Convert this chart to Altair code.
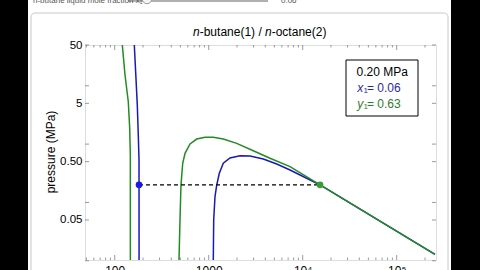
import altair as alt
import pandas as pd

# ---------------- data ----------------
# molar volume (cm^3/mol) and pressure (MPa) along each branch
green_liquid_V = [120.5, 128.7, 139.5, 144.4, 146.6, 146.8]
green_liquid_P = [50, 15.3, 5.33, 1.86, 0.65, 0.0103]

blue_liquid_V = [161.6, 167.7, 173.9, 178.2, 181.4, 181.6]
blue_liquid_P = [50, 15.3, 4.69, 1.43, 0.53, 0.0103]

green_vapor_V = [483, 495, 507, 529, 560, 633, 746, 913, 1119, 1430, 1986, 2980, 4490, 7330, 15300, 255400]
green_vapor_P = [0.0103, 0.05, 0.197, 0.469, 0.695, 1.005, 1.22, 1.31, 1.31, 1.22, 1.03, 0.77, 0.571, 0.41, 0.2, 0.0129]

blue_vapor_V = [1119, 1130, 1167, 1216, 1297, 1430, 1685, 2153, 2750, 3810, 5290, 7330, 14090, 15300, 255400]
blue_vapor_P = [0.0103, 0.05, 0.126, 0.197, 0.316, 0.469, 0.578, 0.632, 0.625, 0.555, 0.456, 0.36, 0.213, 0.2, 0.0129]

pressure_MPa = 0.2
liquid_point_V = 181.4
vapor_point_V = 15300

x_label_values = [100, 1000, 10000, 100000]
x_label_texts = ["100", "1000", "10⁴", "10⁵"]
x_minor_ticks = [50, 60, 70, 80, 90, 200, 300, 400, 500, 600, 700, 800, 900,
                 2000, 3000, 4000, 5000, 6000, 7000, 8000, 9000,
                 20000, 30000, 40000, 50000, 60000, 70000, 80000, 90000, 200000]
y_label_values = [50, 5, 0.5, 0.05]
y_label_texts = ["50", "5", "0.50", "0.05"]
y_ticks = [50, 10, 5, 1, 0.5, 0.1, 0.05, 0.01]

title_parts = ["n", "-butane(1) / ", "n", "-octane(2)"]
box_line1 = "0.20 MPa"
box_x_value = " = 0.06"
box_y_value = " = 0.63"
y_title = "pressure (MPa)"
control_label = "n-butane liquid mole fraction x₁"
control_value = "0.06"

# ---------------- styling ----------------
BLUE = "#1a1ab4"
GREEN = "#238b23"
FONT = "Liberation Sans"
W, H = 351, 215

x_scale = alt.Scale(type="log", domain=[48.3, 261900], nice=False)
y_scale = alt.Scale(type="log", domain=[0.0103, 50], nice=False)


def label_expr(vals, texts):
    expr = "''"
    for v, t in zip(vals, texts):
        expr = f"(abs(datum.value - {v}) < {v}*1e-6 ? '{t}' : {expr})"
    return expr


x_axis = alt.Axis(values=x_label_values, labelExpr=label_expr(x_label_values, x_label_texts),
                  ticks=False, domain=False, grid=False, labelFontSize=12, labelPadding=5,
                  labelFont=FONT, labelColor="black", title=None, labelFlush=False,
                  labelOverlap=False)
y_axis = alt.Axis(values=y_label_values, labelExpr=label_expr(y_label_values, y_label_texts),
                  ticks=False, domain=False, grid=False, labelFontSize=11.5, labelPadding=3,
                  labelFont=FONT, labelColor="black", title=None, labelFlush=False,
                  labelOverlap=False)


def X(field):
    return alt.X(f"{field}:Q", scale=x_scale, axis=x_axis)


def Y(field):
    return alt.Y(f"{field}:Q", scale=y_scale, axis=y_axis)


def series(V, P):
    return pd.DataFrame({"V": V, "P": P, "i": list(range(len(V)))})


def line(V, P, color):
    return alt.Chart(series(V, P)).mark_line(color=color, strokeWidth=1.5, clip=True).encode(
        x=X("V"), y=Y("P"), order="i:Q")


one = pd.DataFrame({"a": [0]})


def deco_rect(x, x2, y, y2, **kw):
    return alt.Chart(one).mark_rect(**kw).encode(
        x=alt.value(x), x2=alt.value(x2), y=alt.value(y), y2=alt.value(y2))


def text(t, x, y, size=12, color="black", italic=False, align="left", angle=0, baseline="middle"):
    kw = dict(text=t, fontSize=size, color=color, align=align, baseline=baseline, font=FONT)
    if italic:
        kw["fontStyle"] = "italic"
    if angle:
        kw["angle"] = angle
    return alt.Chart(one).mark_text(**kw).encode(x=alt.value(x), y=alt.value(y))


# page decorations (origin of these values is the plot's top-left corner at 85,45)
left_black = deco_rect(-85, -57, -45, 225, color="black")
right_black = deco_rect(366, 395, -45, 225, color="black")
panel = deco_rect(-54, 363, -32, 240, fill="transparent", stroke="#c8c8c8", strokeWidth=1, cornerRadius=4)
track = alt.Chart(one).mark_rule(color="#b0b0b0", strokeWidth=2).encode(
    x=alt.value(43), x2=alt.value(183), y=alt.value(-44))
knob = alt.Chart(one).mark_circle(size=90, color="#f4f4f4", stroke="#999", strokeWidth=1, opacity=1).encode(
    x=alt.value(62), y=alt.value(-46))
ctrl_text = text(control_label, -52, -44, size=8, color="#555")
ctrl_val = text(control_value, 196, -44, size=8, color="#555")

# ticks (inward, on all four sides)
xt_major = pd.DataFrame({"V": x_label_values})
xt_minor = pd.DataFrame({"V": x_minor_ticks})
yt = pd.DataFrame({"P": y_ticks})
TICK = "#808080"


def xticks(df, y, y2):
    return alt.Chart(df).mark_rule(color=TICK, strokeWidth=0.8).encode(
        x=X("V"), y=alt.value(y), y2=alt.value(y2))


def yticks(x, x2):
    return alt.Chart(yt).mark_rule(color=TICK, strokeWidth=0.8).encode(
        y=Y("P"), x=alt.value(x), x2=alt.value(x2))


ticks = [xticks(xt_major, H, H - 5), xticks(xt_minor, H, H - 2.5),
         xticks(xt_major, 0, 5), xticks(xt_minor, 0, 2.5),
         yticks(0, 4), yticks(W, W - 4)]

# curves
curves = [
    line(green_liquid_V, green_liquid_P, GREEN),
    line(blue_liquid_V, blue_liquid_P, BLUE),
    line(blue_vapor_V, blue_vapor_P, BLUE),
    line(green_vapor_V, green_vapor_P, GREEN),
]

tie = alt.Chart(pd.DataFrame({"V": [liquid_point_V], "V2": [vapor_point_V], "P": [pressure_MPa]})).mark_rule(
    color="black", strokeDash=[4, 3], strokeWidth=1.2).encode(
    x=X("V"), x2="V2:Q", y=Y("P"))

pts_df = pd.DataFrame({"V": [liquid_point_V, vapor_point_V], "P": [pressure_MPa, pressure_MPa],
                       "c": ["liq", "vap"]})
points = alt.Chart(pts_df).mark_circle(size=45, opacity=1).encode(
    x=X("V"), y=Y("P"),
    color=alt.Color("c:N", scale=alt.Scale(domain=["liq", "vap"], range=["#1a1ae6", "#3a9a3a"]), legend=None),
)

# legend box
box = deco_rect(261, 333, 15, 71, fill="white", stroke="black", strokeWidth=1)
box_texts = [
    text(box_line1, 297.3, 27, size=12, align="center"),
    text("x", 272.3, 42.5, size=12, color="#2a2a9e", italic=True),
    text("1", 278.6, 46, size=8, color="#2a2a9e"),
    text(box_x_value, 282, 42.5, size=12, color="#2a2a9e"),
    text("y", 272.3, 58.5, size=12, color="#2e7d2e", italic=True),
    text("1", 278.6, 62, size=8, color="#2e7d2e"),
    text(box_y_value, 282, 58.5, size=12, color="#2e7d2e"),
]

# title and y title
title_layers = [
    text(title_parts[0], 108, -13.5, size=12, italic=True),
    text(title_parts[1], 114.7, -13.5, size=12),
    text(title_parts[2], 180.0, -13.5, size=12, italic=True),
    text(title_parts[3], 186.7, -13.5, size=12),
]
ytitle = text(y_title, -34, 107, size=12, align="center", angle=270)

chart = alt.layer(
    left_black, right_black, panel, track, knob, ctrl_text, ctrl_val,
    *curves, *ticks, tie, points, box, *box_texts, *title_layers, ytitle,
).properties(
    width=W, height=H,
    padding={"left": 85, "top": 45, "right": 44, "bottom": 10},
    autosize=alt.AutoSizeParams(type="none"),
    background="white",
).configure_view(stroke="#999999", strokeWidth=1).configure(font=FONT)

chart.save("out.html", embed_options={"renderer": "svg", "actions": False})
